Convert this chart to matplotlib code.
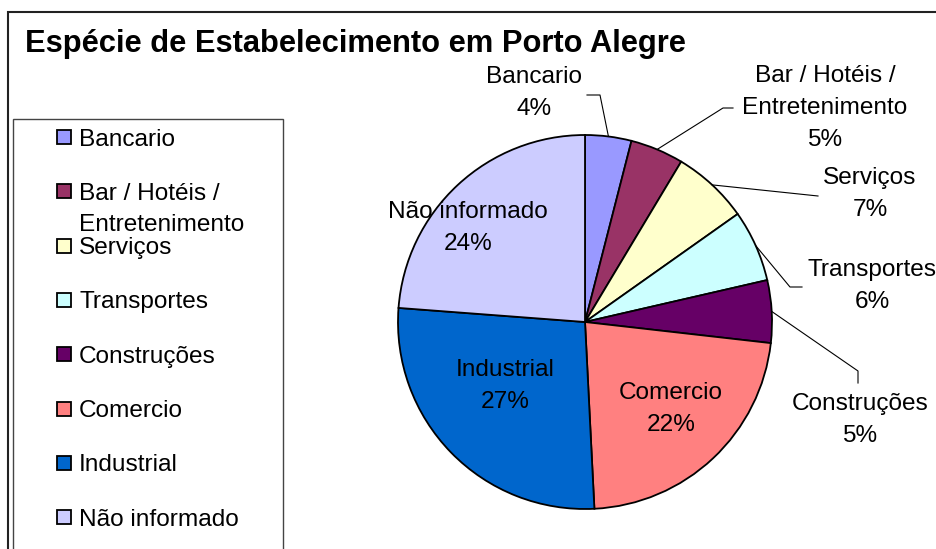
import matplotlib.pyplot as plt
from matplotlib.patches import Rectangle
import numpy as np

plt.rcParams["font.family"] = ["Liberation Sans", "DejaVu Sans"]

W, H = 936, 549

title = "Espécie de Estabelecimento em Porto Alegre"
categories = [
    "Bancario",
    "Bar / Hotéis /\nEntretenimento",
    "Serviços",
    "Transportes",
    "Construções",
    "Comercio",
    "Industrial",
    "Não informado",
]
shares = [4.0, 4.6, 6.6, 6.2, 5.4, 22.4, 27.0, 23.8]
colors = ["#9999FF", "#993366", "#FFFFCC", "#CCFFFF", "#660066", "#FF8080", "#0066CC", "#CCCCFF"]

# label block centres (pixels, y from top) and leader-line bends
label_pos = [(534, 93), (825, 108), (870, 194), (872, 286), (860, 420),
             (671, 409), (505, 386), (468, 228)]
leaders = [
    [(600, 95), (587, 95)],
    [(723, 108), (733, 108)],
    [(818, 196)],
    [(790, 287), (802, 287)],
    [(858, 371), (858, 383)],
    None, None, None,
]


def px(x, y):
    return x, H - y


fig = plt.figure(figsize=(W / 100, H / 100), dpi=100)
ax = fig.add_axes([0, 0, 1, 1])

cx, cy = px(585, 322)
radius = 187
wedges, _ = ax.pie(
    shares,
    colors=colors,
    startangle=90,
    counterclock=False,
    center=(cx, cy),
    radius=radius,
    wedgeprops=dict(edgecolor="black", linewidth=1.3),
)
ax.set_xlim(0, W)
ax.set_ylim(0, H)
ax.axis("off")

fs = 17.6
for i, (w, name, val) in enumerate(zip(wedges, categories, shares)):
    lx, ly = px(*label_pos[i])
    ax.text(lx, ly, f"{name}\n{val:.0f}%", ha="center", va="center",
            multialignment="center", fontsize=fs, linespacing=1.56)
    if leaders[i] is not None:
        mid = np.deg2rad((w.theta1 + w.theta2) / 2)
        pts = [(cx + radius * np.cos(mid), cy + radius * np.sin(mid))]
        pts += [px(*p) for p in leaders[i]]
        xs, ys = zip(*pts)
        ax.plot(xs, ys, color="black", lw=0.8)

# outer chart frame and legend box
ax.add_patch(Rectangle(px(8, 560), 940, 548, fill=False, ec="#222222", lw=1.5, clip_on=False))
ax.add_patch(Rectangle(px(13, 560), 270, 441, fill=False, ec="#444444", lw=1.0, clip_on=False))

fig.text(25 / W, 1 - 52 / H, title, fontsize=22.2, fontweight="bold", va="baseline")

# legend (wrapped names continue below the marker line)
for i, (name, col) in enumerate(zip(categories, colors)):
    yc = 137 + 54.3 * i
    ax.add_patch(Rectangle(px(57, yc + 7), 14, 14, fc=col, ec="black", lw=1.3))
    for k, line in enumerate(name.split("\n")):
        ax.text(79, H - (yc + 8.5 + 31 * k), line, fontsize=fs, va="baseline", ha="left")

fig.savefig("out.png", dpi=100)
